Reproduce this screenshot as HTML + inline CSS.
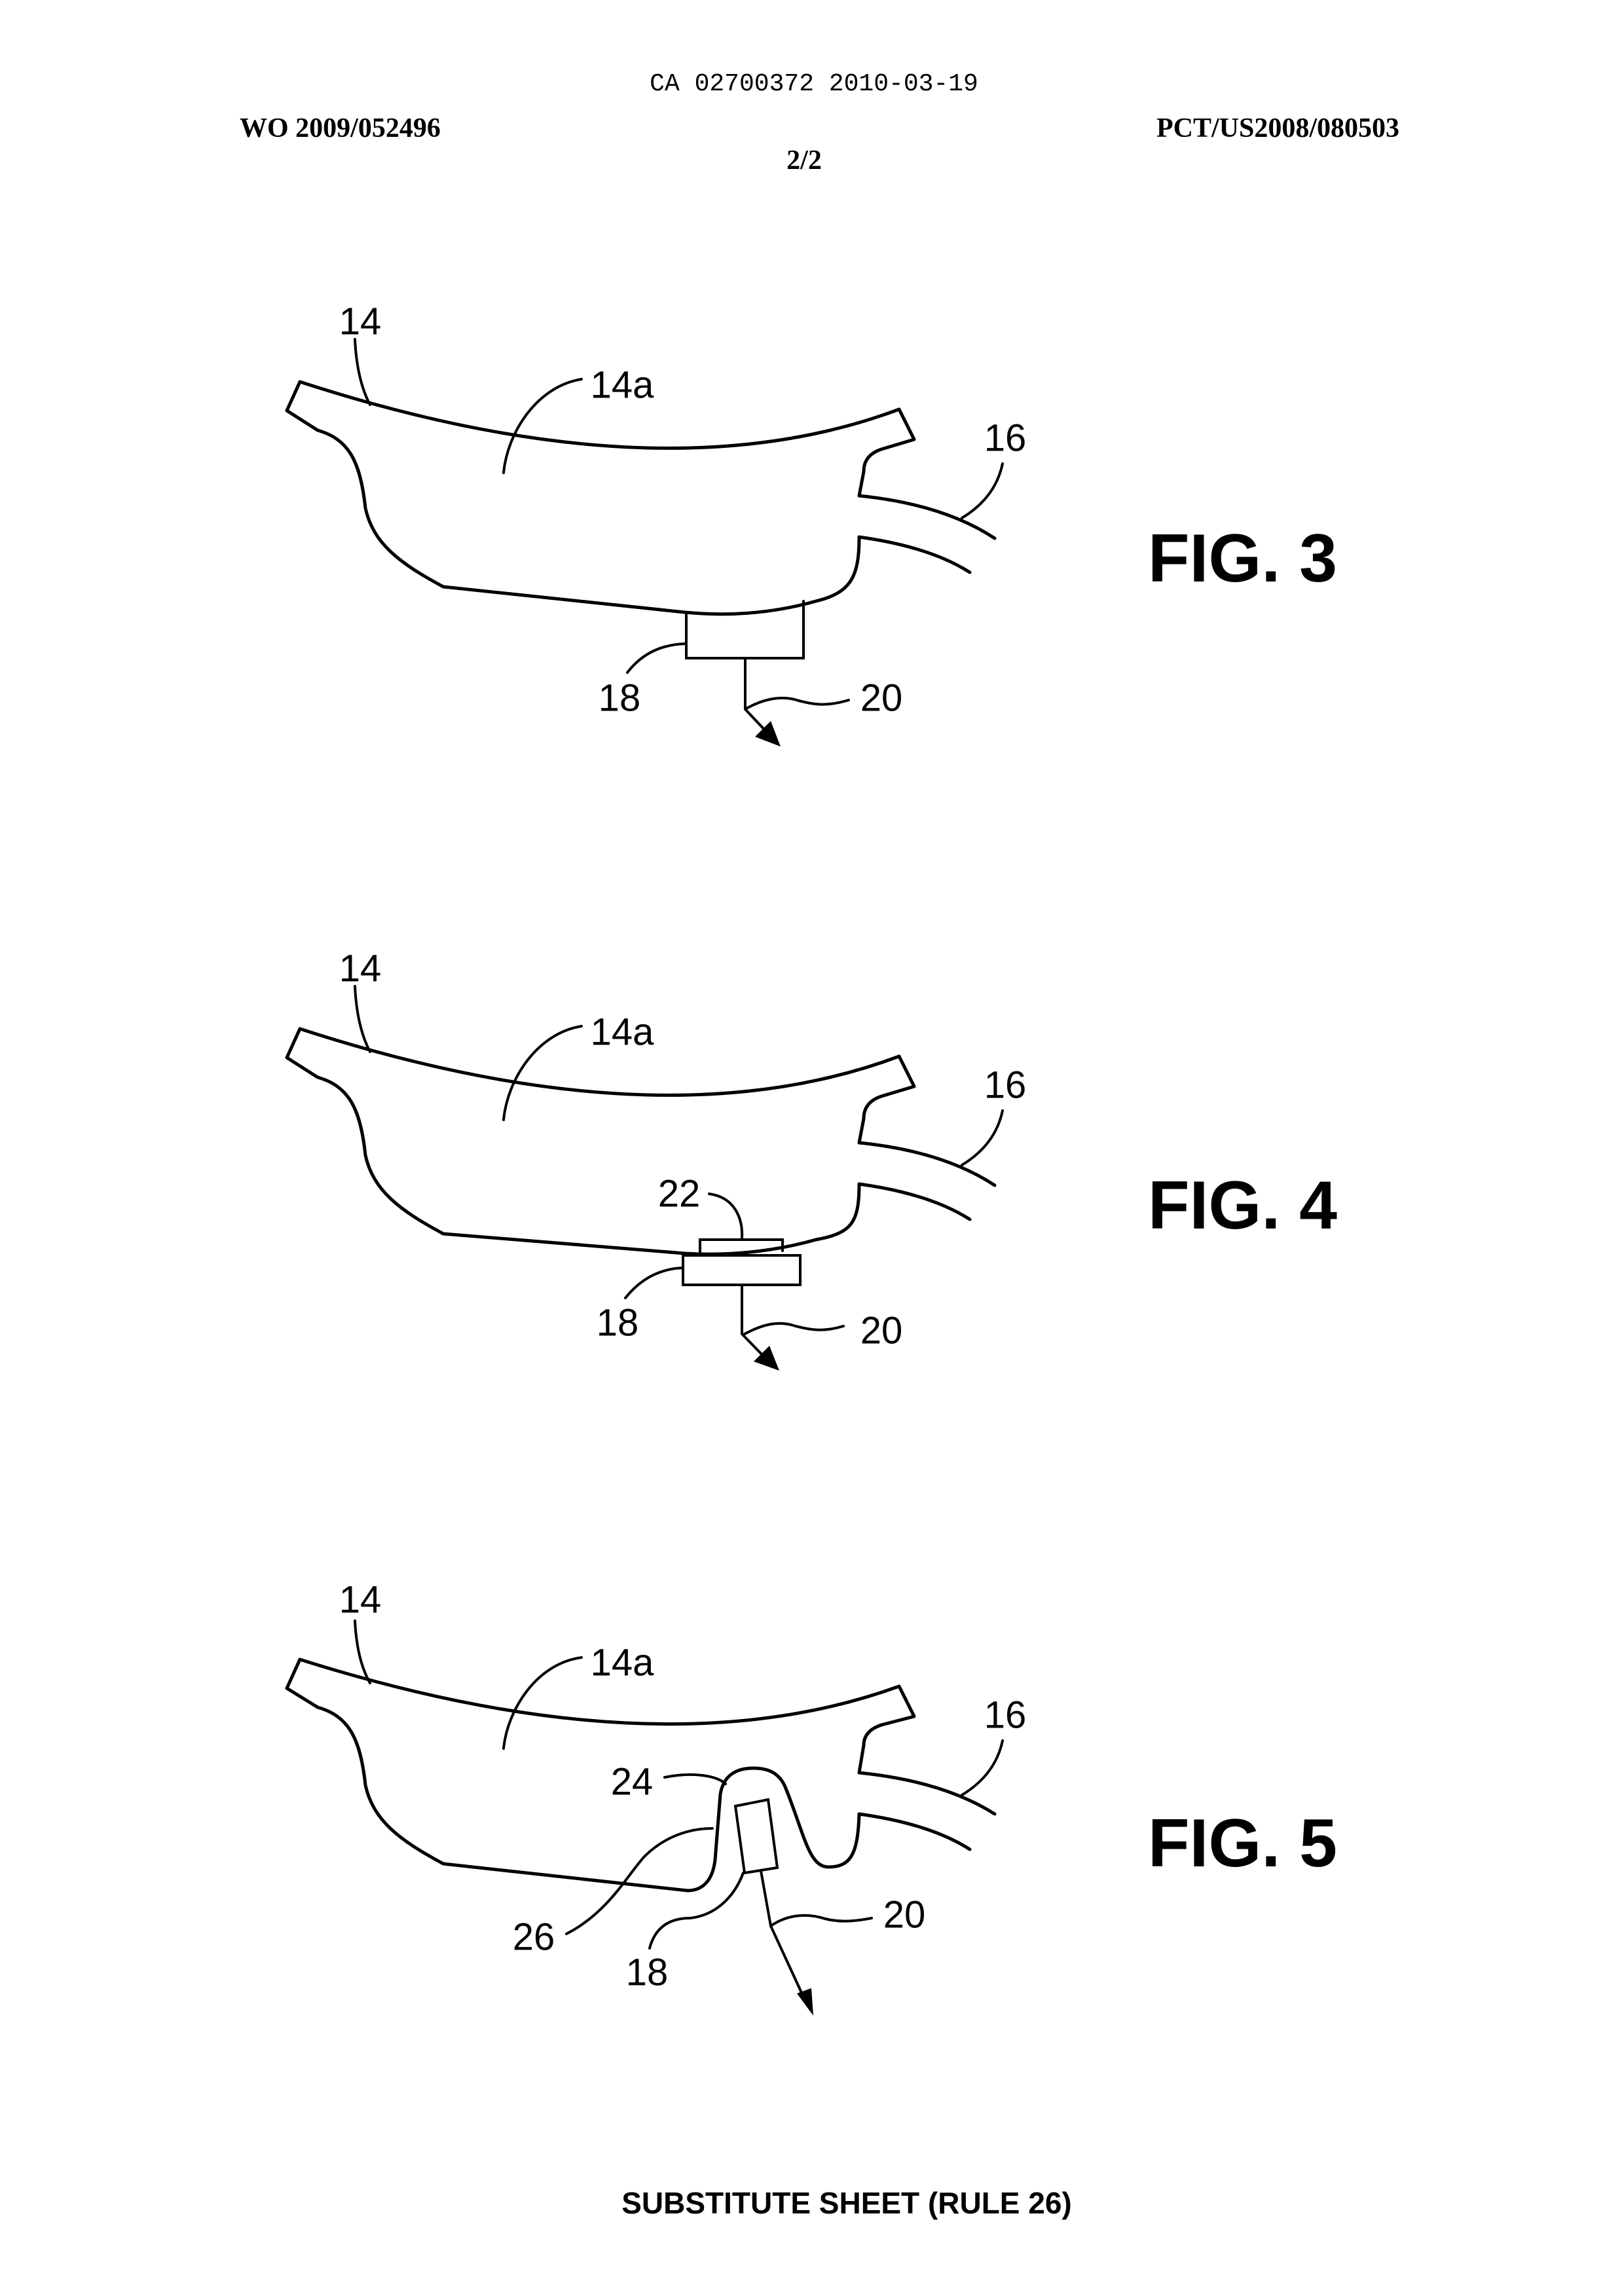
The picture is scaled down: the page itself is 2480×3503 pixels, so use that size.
<!DOCTYPE html>
<html><head><meta charset="utf-8"><style>
html,body{margin:0;padding:0;background:#fff}
svg{display:block}
.l{font-family:"Liberation Sans",sans-serif;font-size:58px;fill:#000}
.f{font-family:"Liberation Sans",sans-serif;font-size:104px;font-weight:bold;fill:#000}
.m{fill:none;stroke:#000;stroke-width:5;stroke-linejoin:round;stroke-linecap:round}
.t{fill:none;stroke:#000;stroke-width:4;stroke-linecap:round}
</style></head><body>
<svg width="2480" height="3503" viewBox="0 0 2480 3503" xmlns="http://www.w3.org/2000/svg">
<text x="1243" y="138" text-anchor="middle" font-family="Liberation Mono,monospace" font-size="38">CA 02700372 2010-03-19</text>
<text x="366" y="209" font-family="Liberation Serif,serif" font-weight="bold" font-size="42">WO 2009/052496</text>
<text x="2137" y="209" text-anchor="end" font-family="Liberation Serif,serif" font-weight="bold" font-size="42">PCT/US2008/080503</text>
<text x="1228" y="258" text-anchor="middle" font-family="Liberation Serif,serif" font-weight="bold" font-size="42">2/2</text>

<!-- FIG 3 -->
<g>
<path class="m" d="M458,583 Q1008,762 1373,625 L1396,671 L1346,686 Q1319,695 1319,720 L1312,757"/>
<path class="m" d="M1312,757 Q1440,770 1519,822"/>
<path class="m" d="M1312,820 Q1420,835 1481,874"/>
<path class="m" d="M1312,820 C1312,880 1300,905 1246,918 Q1150,945 1046,935 L677,896 C610,860 570,830 558,776 C550,700 530,670 485,657 L438,627 L458,583"/>
<path class="t" d="M1048,935 L1048,1005 L1227,1005 L1227,918"/>
<path class="t" d="M1138,1005 L1138,1083 L1170,1117"/>
<polygon points="1192,1140 1177,1101 1153,1125"/>
<path class="t" d="M542,518 Q545,580 565,618"/>
<path class="t" d="M888,579 C820,590 775,660 769,722"/>
<path class="t" d="M1531,708 Q1520,760 1469,791"/>
<path class="t" d="M958,1027 Q990,985 1046,983"/>
<path class="t" d="M1296,1069 C1260,1080 1240,1075 1220,1070 C1190,1060 1160,1070 1138,1083"/>
<text class="l" x="550" y="491" text-anchor="middle" dominant-baseline="central">14</text>
<text class="l" x="950" y="588" text-anchor="middle" dominant-baseline="central">14a</text>
<text class="l" x="1535" y="669" text-anchor="middle" dominant-baseline="central">16</text>
<text class="l" x="946" y="1066" text-anchor="middle" dominant-baseline="central">18</text>
<text class="l" x="1346" y="1066" text-anchor="middle" dominant-baseline="central">20</text>
<text class="f" x="1753" y="888">FIG. 3</text>
</g>

<!-- FIG 4 -->
<g transform="translate(0,988)">
<path class="m" d="M458,583 Q1008,762 1373,625 L1396,671 L1346,686 Q1319,695 1319,720 L1312,757"/>
<path class="m" d="M1312,757 Q1440,770 1519,822"/>
<path class="m" d="M1312,820 Q1420,835 1481,874"/>
<path class="m" d="M1312,820 C1312,880 1300,895 1246,905 Q1150,932 1046,926 L677,896 C610,860 570,830 558,776 C550,700 530,670 485,657 L438,627 L458,583"/>
<path class="t" d="M1069,928 L1069,905 L1195,905 L1195,922"/>
<rect class="t" x="1043" y="929" width="179" height="45"/>
<path class="t" d="M1133,974 L1133,1049 L1168,1085"/>
<polygon points="1190,1105 1175,1067 1151,1091"/>
<path class="t" d="M542,518 Q545,580 565,618"/>
<path class="t" d="M888,579 C820,590 775,660 769,722"/>
<path class="t" d="M1531,708 Q1520,760 1469,791"/>
<path class="t" d="M1083,835 C1120,840 1135,870 1133,904"/>
<path class="t" d="M955,994 Q990,950 1043,948"/>
<path class="t" d="M1288,1037 C1255,1047 1235,1042 1215,1037 C1185,1027 1160,1037 1137,1049"/>
<text class="l" x="550" y="491" text-anchor="middle" dominant-baseline="central">14</text>
<text class="l" x="950" y="588" text-anchor="middle" dominant-baseline="central">14a</text>
<text class="l" x="1535" y="669" text-anchor="middle" dominant-baseline="central">16</text>
<text class="l" x="1037" y="835" text-anchor="middle" dominant-baseline="central">22</text>
<text class="l" x="943" y="1032" text-anchor="middle" dominant-baseline="central">18</text>
<text class="l" x="1346" y="1044" text-anchor="middle" dominant-baseline="central">20</text>
<text class="f" x="1753" y="888">FIG. 4</text>
</g>

<!-- FIG 5 -->
<g>
<path class="m" d="M458,2534 Q1008,2708 1373,2575 L1396,2621 L1346,2634 Q1319,2643 1319,2665 L1312,2707"/>
<path class="m" d="M1312,2707 Q1440,2720 1519,2770"/>
<path class="m" d="M1312,2770 Q1420,2785 1481,2824"/>
<path class="m" d="M1312,2770 C1310,2830 1300,2851 1265,2851 C1235,2851 1228,2800 1200,2731 C1190,2705 1170,2700 1150,2700 C1120,2700 1104,2715 1100,2740 L1092,2840 C1088,2875 1070,2887 1050,2887 L677,2846 C610,2810 570,2780 558,2726 C550,2650 530,2620 485,2607 L438,2578 L458,2534"/>
<polygon class="t" points="1123,2758 1173,2748 1187,2852 1137,2860"/>
<path class="t" d="M1162,2857 L1177,2941 L1225,3045"/>
<polygon points="1242,3078 1239,3036 1217,3044"/>
<path class="t" d="M542,2475 Q545,2535 565,2570"/>
<path class="t" d="M888,2531 C820,2540 775,2610 769,2670"/>
<path class="t" d="M1531,2658 Q1520,2710 1469,2741"/>
<path class="t" d="M1015,2714 C1060,2705 1095,2712 1108,2724"/>
<path class="t" d="M865,2953 C930,2920 960,2860 985,2834 C1020,2800 1060,2792 1088,2792"/>
<path class="t" d="M992,2975 C1000,2945 1020,2929 1054,2929 C1090,2925 1120,2900 1135,2860"/>
<path class="t" d="M1331,2929 C1300,2935 1280,2935 1260,2930 C1230,2920 1200,2925 1177,2941"/>
<text class="l" x="550" y="2443" text-anchor="middle" dominant-baseline="central">14</text>
<text class="l" x="950" y="2539" text-anchor="middle" dominant-baseline="central">14a</text>
<text class="l" x="1535" y="2619" text-anchor="middle" dominant-baseline="central">16</text>
<text class="l" x="965" y="2721" text-anchor="middle" dominant-baseline="central">24</text>
<text class="l" x="815" y="2958" text-anchor="middle" dominant-baseline="central">26</text>
<text class="l" x="988" y="3012" text-anchor="middle" dominant-baseline="central">18</text>
<text class="l" x="1381" y="2924" text-anchor="middle" dominant-baseline="central">20</text>
<text class="f" x="1753" y="2850">FIG. 5</text>
</g>

<text x="1293" y="3380" text-anchor="middle" font-family="Liberation Sans,sans-serif" font-weight="bold" font-size="46">SUBSTITUTE SHEET (RULE 26)</text>
</svg>
</body></html>
